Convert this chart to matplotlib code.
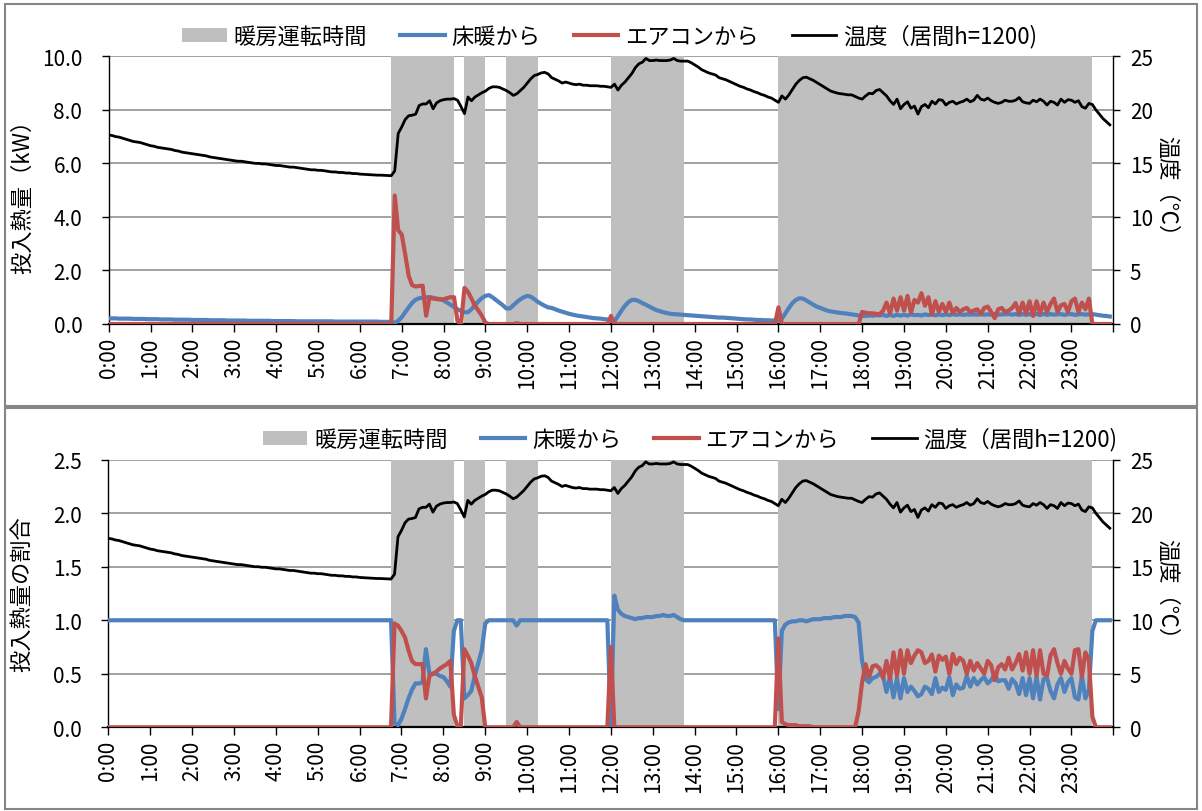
import numpy as np
import matplotlib
matplotlib.use("Agg")
import matplotlib.pyplot as plt
from matplotlib.patches import Patch, Rectangle
from matplotlib.lines import Line2D

plt.rcParams['font.family'] = ['Noto Sans CJK JP', 'DejaVu Sans']

# 5-minute samples, 0:00 .. 23:55 (one row per hour)
temp = [
    17.65, 17.6, 17.5, 17.45, 17.35, 17.25, 17.15, 17.05, 17.0, 16.95, 16.85, 16.75,
    16.65, 16.6, 16.5, 16.45, 16.4, 16.35, 16.3, 16.2, 16.15, 16.05, 16.0, 15.95,
    15.9, 15.85, 15.8, 15.75, 15.7, 15.6, 15.55, 15.5, 15.45, 15.4, 15.35, 15.3,
    15.25, 15.2, 15.2, 15.15, 15.1, 15.05, 15.0, 15.0, 14.95, 14.95, 14.9, 14.85,
    14.8, 14.8, 14.75, 14.7, 14.65, 14.65, 14.6, 14.55, 14.5, 14.45, 14.4, 14.4,
    14.35, 14.35, 14.3, 14.25, 14.2, 14.2, 14.15, 14.15, 14.1, 14.1, 14.05, 14.05,
    14.0, 13.98, 13.96, 13.95, 13.93, 13.9, 13.9, 13.88, 13.86, 13.85, 14.3, 17.8,
    18.4, 19.1, 19.45, 19.5, 19.6, 20.4, 20.55, 20.55, 20.85, 20.1, 20.65, 20.85,
    20.95, 21.0, 21.0, 21.05, 20.9, 20.3, 19.65, 21.2, 20.85, 21.2, 21.4, 21.6,
    21.75, 22.0, 22.15, 22.15, 22.1, 21.95, 21.8, 21.6, 21.35, 21.5, 21.8, 22.1,
    22.5, 22.9, 23.2, 23.3, 23.45, 23.5, 23.35, 23.0, 22.85, 22.7, 22.5, 22.6,
    22.5, 22.4, 22.35, 22.4, 22.3, 22.3, 22.25, 22.25, 22.25, 22.2, 22.2, 22.15,
    22.1, 22.4, 21.85, 22.3, 22.6, 23.0, 23.4, 23.95, 24.3, 24.45, 24.8, 24.6,
    24.6, 24.65, 24.6, 24.6, 24.6, 24.65, 24.8, 24.6, 24.55, 24.55, 24.55, 24.4,
    24.2, 24.0, 23.75, 23.6, 23.45, 23.35, 23.25, 23.0, 22.9, 22.8, 22.65, 22.5,
    22.35, 22.2, 22.1, 21.95, 21.85, 21.7, 21.6, 21.45, 21.35, 21.2, 21.1, 20.9,
    20.7, 21.3, 21.0, 21.4, 21.9, 22.4, 22.75, 23.0, 23.05, 22.9, 22.75, 22.55,
    22.35, 22.15, 21.95, 21.75, 21.65, 21.55, 21.5, 21.45, 21.4, 21.4, 21.25, 21.1,
    21.0, 21.3, 21.55, 21.5, 21.8, 21.9, 21.6, 21.3, 20.85, 20.5, 21.0, 20.1,
    20.5, 20.75, 20.15, 20.35, 19.6, 20.3, 20.5, 20.2, 20.8, 20.55, 20.95, 20.9,
    20.45, 20.7, 20.8, 20.55, 20.7, 20.8, 21.0, 20.75, 20.9, 21.35, 21.0, 20.9,
    21.1, 20.85, 20.7, 20.6, 20.7, 20.9, 20.8, 20.8, 20.9, 21.15, 20.75, 20.65,
    20.6, 20.9, 20.75, 21.0, 20.8, 20.45, 20.8, 20.7, 20.45, 21.0, 20.7, 20.95,
    20.9, 20.7, 20.85, 20.3, 20.15, 20.6, 20.5, 20.0, 19.6, 19.2, 18.9, 18.6,
]

floor_kw = [
    0.21, 0.21, 0.21, 0.2, 0.2, 0.2, 0.2, 0.19, 0.19, 0.19, 0.19, 0.18,
    0.18, 0.18, 0.18, 0.17, 0.17, 0.17, 0.17, 0.16, 0.16, 0.16, 0.16, 0.16,
    0.15, 0.15, 0.15, 0.15, 0.15, 0.14, 0.14, 0.14, 0.14, 0.14, 0.13, 0.13,
    0.13, 0.13, 0.13, 0.13, 0.12, 0.12, 0.12, 0.12, 0.12, 0.12, 0.12, 0.11,
    0.11, 0.11, 0.11, 0.11, 0.11, 0.11, 0.1, 0.1, 0.1, 0.1, 0.1, 0.1,
    0.1, 0.1, 0.1, 0.1, 0.1, 0.09, 0.09, 0.09, 0.09, 0.09, 0.09, 0.09,
    0.09, 0.09, 0.09, 0.09, 0.09, 0.09, 0.08, 0.08, 0.08, 0.08, 0.04, 0.12,
    0.25, 0.44, 0.62, 0.79, 0.91, 0.96, 0.98, 1.0, 1.0, 0.98, 0.95, 0.93,
    0.88, 0.8, 0.72, 0.63, 0.55, 0.49, 0.44, 0.44, 0.55, 0.7, 0.85, 0.97,
    1.05, 1.08, 1.0, 0.9, 0.8, 0.7, 0.58, 0.58, 0.7, 0.82, 0.92, 1.0,
    1.05, 1.02, 0.93, 0.83, 0.75, 0.68, 0.62, 0.6, 0.55, 0.5, 0.46, 0.42,
    0.38, 0.35, 0.32, 0.3, 0.28, 0.26, 0.24, 0.22, 0.21, 0.2, 0.18, 0.17,
    0.12, 0.1, 0.3, 0.5, 0.68, 0.82, 0.9, 0.9, 0.85, 0.78, 0.72, 0.65,
    0.58, 0.52, 0.48, 0.44, 0.41, 0.38, 0.37, 0.36, 0.35, 0.34, 0.33, 0.32,
    0.31, 0.3, 0.29, 0.28, 0.27, 0.26, 0.25, 0.24, 0.24, 0.23, 0.22, 0.21,
    0.2, 0.19, 0.18, 0.17, 0.17, 0.16, 0.15, 0.15, 0.14, 0.14, 0.13, 0.13,
    0.12, 0.2, 0.4, 0.6, 0.78, 0.9, 0.96, 0.95, 0.88, 0.8, 0.72, 0.65,
    0.6, 0.55, 0.5, 0.47, 0.45, 0.43, 0.41, 0.4, 0.38, 0.36, 0.34, 0.32,
    0.31, 0.3, 0.32, 0.31, 0.33, 0.32, 0.34, 0.3, 0.34, 0.3, 0.35, 0.31,
    0.35, 0.31, 0.36, 0.33, 0.34, 0.32, 0.36, 0.33, 0.37, 0.32, 0.36, 0.33,
    0.36, 0.33, 0.37, 0.34, 0.36, 0.34, 0.36, 0.35, 0.36, 0.35, 0.36, 0.35,
    0.36, 0.35, 0.37, 0.35, 0.36, 0.36, 0.37, 0.35, 0.37, 0.34, 0.37, 0.34,
    0.37, 0.33, 0.38, 0.33, 0.38, 0.34, 0.37, 0.35, 0.36, 0.37, 0.34, 0.37,
    0.37, 0.34, 0.36, 0.37, 0.35, 0.36, 0.37, 0.35, 0.33, 0.31, 0.3, 0.28,
]

aircon_kw = [0.0] * 82 + [
    4.8, 3.5,
    3.35, 2.6, 1.8, 1.45, 1.4, 1.42, 1.43, 0.31, 1.0, 0.95, 0.93, 0.92,
    0.92, 0.97, 1.0, 1.0, 0.1, 0.0, 1.35, 1.2, 0.95, 0.68, 0.5, 0.3,
    0.05, 0.0, 0.0, 0.0, 0.0, 0.0, 0.0, 0.0, 0.0, 0.03, 0.0, 0.0,
] + [0.0] * 24 + [0.3] + [0.0] * 47 + [0.62] + [0.0] * 23 + [
    0.45, 0.42, 0.4, 0.4, 0.38, 0.36, 0.5, 0.8, 0.4, 0.95, 0.5, 1.0,
    0.5, 1.05, 0.42, 0.9, 0.8, 1.15, 0.68, 1.0, 0.35, 0.85, 0.45, 0.75,
    0.45, 0.8, 0.4, 0.6, 0.45, 0.55, 0.6, 0.45, 0.5, 0.55, 0.38, 0.6,
    0.65, 0.45, 0.22, 0.55, 0.6, 0.45, 0.5, 0.6, 0.78, 0.4, 0.8, 0.4,
    0.85, 0.3, 0.85, 0.4, 0.8, 0.45, 0.75, 0.95, 0.45, 0.7, 0.75, 0.45,
    0.85, 0.95, 0.45, 0.8, 0.55, 0.95, 0.0, 0.0, 0.0, 0.0, 0.0, 0.0,
]

floor_ratio = [1.0] * 82 + [
    0.04, 0.02,
    0.08, 0.17, 0.27, 0.35, 0.41, 0.41, 0.42, 0.73, 0.5, 0.5, 0.5, 0.48,
    0.47, 0.43, 0.38, 0.9, 1.0, 1.0, 0.27, 0.3, 0.34, 0.48, 0.6, 0.72,
    0.97, 1.0, 1.0, 1.0, 1.0, 1.0, 1.0, 1.0, 1.0, 0.95, 1.0, 1.0,
] + [1.0] * 24 + [
    0.02, 1.23, 1.1, 1.06, 1.04, 1.03, 1.02, 1.01, 1.02, 1.02, 1.03, 1.03,
    1.03, 1.04, 1.04, 1.05, 1.04, 1.04, 1.05, 1.03, 1.01, 1.0, 1.0, 1.0,
] + [1.0] * 24 + [
    0.17, 0.9, 0.96, 0.98, 0.99, 0.99, 1.0, 1.0, 0.99, 1.0, 1.01, 1.01,
    1.01, 1.02, 1.02, 1.02, 1.03, 1.03, 1.03, 1.04, 1.04, 1.04, 1.03, 0.98,
    0.62, 0.45, 0.42, 0.46, 0.47, 0.5, 0.48, 0.33, 0.47, 0.28, 0.46, 0.27,
    0.46, 0.33, 0.38, 0.34, 0.29, 0.31, 0.38, 0.36, 0.31, 0.46, 0.33, 0.37,
    0.35, 0.47, 0.3, 0.4, 0.36, 0.37, 0.48, 0.38, 0.46, 0.4, 0.44, 0.47,
    0.41, 0.44, 0.5, 0.43, 0.44, 0.44, 0.36, 0.45, 0.41, 0.31, 0.46, 0.3,
    0.46, 0.27, 0.47, 0.26, 0.45, 0.46, 0.34, 0.27, 0.4, 0.46, 0.33, 0.42,
    0.46, 0.28, 0.26, 0.48, 0.27, 0.35, 0.9, 1.0, 1.0, 1.0, 1.0, 1.0,
]

aircon_ratio = [0.0] * 82 + [
    0.97, 0.95,
    0.9, 0.84, 0.72, 0.62, 0.59, 0.59, 0.59, 0.27, 0.48, 0.5, 0.52, 0.55,
    0.57, 0.59, 0.62, 0.12, 0.01, 0.01, 0.73, 0.67, 0.6, 0.48, 0.38, 0.28,
    0.0, 0.0, 0.0, 0.0, 0.0, 0.0, 0.0, 0.0, 0.0, 0.05, 0.0, 0.0,
] + [0.0] * 24 + [0.75] + [0.0] * 47 + [
    0.83, 0.05, 0.03, 0.02, 0.02, 0.02, 0.01, 0.01, 0.01, 0.01, 0.0, 0.0,
    0.0, 0.0, 0.0, 0.0, 0.0, 0.0, 0.0, 0.0, 0.0, 0.0, 0.0, 0.15,
    0.42, 0.59, 0.47, 0.57, 0.58, 0.55, 0.46, 0.62, 0.45, 0.7, 0.48, 0.72,
    0.5, 0.72, 0.6, 0.67, 0.72, 0.7, 0.6, 0.62, 0.68, 0.52, 0.67, 0.63,
    0.66, 0.5, 0.685, 0.59, 0.65, 0.62, 0.5, 0.62, 0.53, 0.6, 0.55, 0.5,
    0.62, 0.58, 0.44, 0.56, 0.59, 0.54, 0.65, 0.54, 0.6, 0.685, 0.53, 0.7,
    0.5, 0.72, 0.48, 0.72, 0.5, 0.48, 0.67, 0.73, 0.6, 0.5, 0.62, 0.55,
    0.5, 0.72, 0.73, 0.47, 0.7, 0.63, 0.1, 0.0, 0.0, 0.0, 0.0, 0.0,
]

heating_periods = [("6:45", "8:15"), ("8:30", "9:00"), ("9:30", "10:15"),
                   ("12:00", "13:45"), ("16:00", "23:30")]

hours = np.arange(len(temp)) * 5 / 60.0

W, H = 1202, 812
BLUE = '#4F81BD'
RED = '#C0504D'
BAND = '#BFBFBF'
GRID = '#878787'


def to_h(s):
    hh, mm = s.split(':')
    return int(hh) + int(mm) / 60.0


def panel(rect, left_vals, left_max, left_step, ylabel, legend_xy):
    ax = fig.add_axes(rect)
    for a, b in heating_periods:
        ax.axvspan(to_h(a), to_h(b), color=BAND, lw=0, zorder=1)
    ax.plot(hours, left_vals[0], color=BLUE, lw=3.0, zorder=3)
    ax.plot(hours, left_vals[1], color=RED, lw=3.0, zorder=4)
    ax.set_xlim(0, 24)
    ax.set_ylim(0, left_max)
    yt = np.arange(0, left_max + 1e-9, left_step)
    ax.set_yticks(yt)
    ax.set_yticklabels(['%.1f' % v for v in yt])
    ax.set_xticks(range(25))
    ax.set_xticklabels(['%d:00' % h for h in range(24)] + [''], rotation=90)
    ax.set_axisbelow(True)
    ax.yaxis.grid(True, color=GRID, lw=1.1)
    for s in ('top', 'right'):
        ax.spines[s].set_visible(False)
    ax.spines['left'].set_linewidth(1.0)
    ax.spines['bottom'].set_linewidth(1.6)
    ax.tick_params(axis='y', direction='out', length=5, width=1, labelsize=15, pad=14)
    ax.tick_params(axis='x', direction='out', length=6, width=1, labelsize=15, pad=3)
    ax.set_ylabel(ylabel, fontsize=16, va='center')
    ax.yaxis.set_label_coords(-0.086, 0.5)

    ax2 = ax.twinx()
    ax2.plot(hours, temp, color='black', lw=2.0, zorder=5)
    ax2.set_ylim(0, 25)
    ax2.set_yticks(range(0, 26, 5))
    ax2.spines['top'].set_visible(False)
    ax2.spines['left'].set_visible(False)
    ax2.spines['bottom'].set_visible(False)
    ax2.spines['right'].set_linewidth(1.0)
    ax2.tick_params(axis='y', direction='out', length=5, width=1, labelsize=15, pad=7)
    ax2.set_ylabel('温度（℃）', fontsize=16, rotation=-90, va='center')
    ax2.yaxis.set_label_coords(1.0535, 0.5)

    handles = [Patch(facecolor=BAND, edgecolor='none'),
               Line2D([], [], color=BLUE, lw=3.0),
               Line2D([], [], color=RED, lw=3.0),
               Line2D([], [], color='black', lw=2.0)]
    labels = ['暖房運転時間', '床暖から', 'エアコンから', '温度（居間h=1200)']
    fig.legend(handles, labels, loc='center', bbox_to_anchor=legend_xy,
               ncol=4, frameon=False, fontsize=16, handlelength=2.0,
               handleheight=0.6, handletextpad=0.3, columnspacing=1.5)
    return ax


fig = plt.figure(figsize=(W / 100, H / 100), dpi=100)

panel([108.7 / W, 1 - 325 / H, 1004.6 / W, 267.7 / H],
      (floor_kw, aircon_kw), 10.0, 2.0, '投入熱量（kW）',
      (609.5 / W, 1 - 37 / H))
panel([108.4 / W, 1 - 728.3 / H, 1004.9 / W, 267.6 / H],
      (floor_ratio, aircon_ratio), 2.5, 0.5, '投入熱量の割合',
      (690 / W, 1 - 440 / H))

for y0, y1 in ((5, 407), (409, 810)):
    fig.add_artist(Rectangle((5 / W, 1 - y1 / H), 1192 / W, (y1 - y0) / H,
                             transform=fig.transFigure, fill=False,
                             ec='#868686', lw=1.5))

fig.savefig('out.png', dpi=100)
